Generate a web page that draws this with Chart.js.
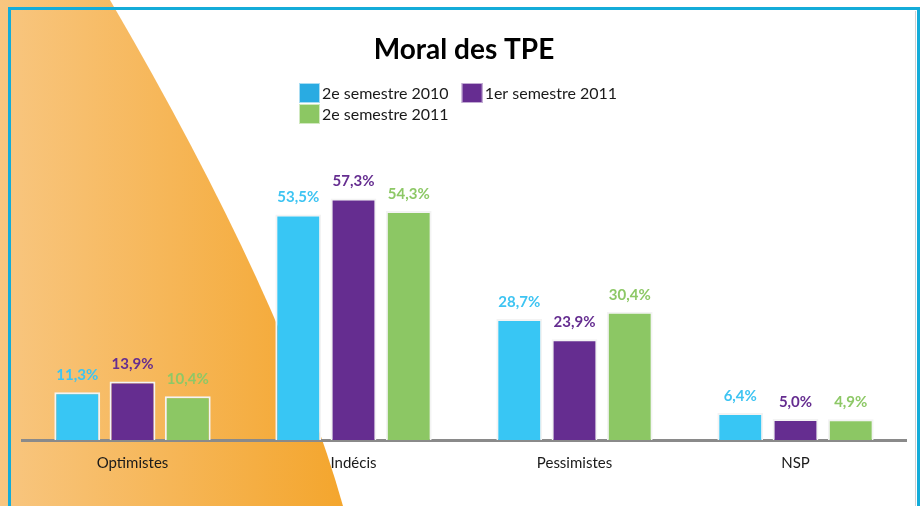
<!DOCTYPE html>
<html>
<head>
<meta charset="utf-8">
<script src="https://cdn.jsdelivr.net/npm/chart.js@4.4.1/dist/chart.umd.min.js"></script>
<style>
  html, body { margin: 0; padding: 0; background: #ffffff; }
  #wrap { width: 920px; height: 506px; position: relative; }
</style>
</head>
<body>
<div id="wrap"><canvas id="c" width="920" height="506"></canvas></div>
<script>
const categories = ['Optimistes', 'Indécis', 'Pessimistes', 'NSP'];
const seriesNames = ['2e semestre 2010', '1er semestre 2011', '2e semestre 2011'];
const values2010S2 = [11.3, 53.5, 28.7, 6.4];
const values2011S1 = [13.9, 57.3, 23.9, 5.0];
const values2011S2 = [10.4, 54.3, 30.4, 4.9];
const chartTitle = 'Moral des TPE';

const FONT = 'Lato, "Open Sans", "Liberation Sans", sans-serif';
const barColors = ['#38c6f4', '#652d90', '#8cc764'];
const labelColors = ['#3ec4f2', '#652d90', '#8dc866'];
const legendColors = ['#29abe2', '#662d91', '#8cc763'];

const fmt = v => v.toFixed(1).replace('.', ',') + '%';

const backgroundPlugin = {
  id: 'bgDecor',
  beforeDraw(chart) {
    const ctx = chart.ctx;
    const W = chart.width, H = chart.height;
    ctx.save();
    ctx.fillStyle = '#ffffff';
    ctx.fillRect(0, 0, W, H);
    const g = ctx.createLinearGradient(0, 0, 340, 0);
    g.addColorStop(0, '#f8c680');
    g.addColorStop(1, '#f4a62e');
    ctx.fillStyle = g;
    ctx.beginPath();
    ctx.moveTo(0, 0);
    ctx.lineTo(110, 0);
    ctx.quadraticCurveTo(285, 300, 343, H);
    ctx.lineTo(0, H);
    ctx.closePath();
    ctx.fill();
    // frame
    ctx.strokeStyle = '#d0d0d0';
    ctx.lineWidth = 1;
    ctx.beginPath();
    ctx.moveTo(915.5, 11);
    ctx.lineTo(915.5, H);
    ctx.stroke();
    ctx.strokeStyle = '#14acd9';
    ctx.lineWidth = 3;
    ctx.beginPath();
    ctx.moveTo(9.5, H + 5);
    ctx.lineTo(9.5, 8.5);
    ctx.lineTo(918.5, 8.5);
    ctx.lineTo(918.5, H + 5);
    ctx.stroke();
    ctx.restore();
  }
};

const legendPlugin = {
  id: 'customLegend',
  afterDraw(chart) {
    const ctx = chart.ctx;
    ctx.save();
    ctx.font = '16px ' + FONT;
    ctx.textBaseline = 'middle';
    ctx.textAlign = 'left';
    const x0 = 299, y0 = 83, bw = 21, bh = 20, rowH = 21;
    const layout = [[0, 1], [2]];
    layout.forEach((row, r) => {
      let x = x0;
      const y = y0 + r * rowH;
      row.forEach(i => {
        ctx.fillStyle = legendColors[i];
        ctx.fillRect(x, y, bw, bh);
        ctx.strokeStyle = 'rgba(255,255,255,0.6)';
        ctx.lineWidth = 1;
        ctx.strokeRect(x + 0.5, y + 0.5, bw - 1, bh - 1);
        ctx.fillStyle = '#1a1a1a';
        ctx.fillText(seriesNames[i], x + bw + 2, y + bh / 2 + 1);
        x += bw + 2 + ctx.measureText(seriesNames[i]).width + 13;
      });
    });
    ctx.restore();
  }
};

const valueLabelPlugin = {
  id: 'valueLabels',
  afterDatasetsDraw(chart) {
    const ctx = chart.ctx;
    ctx.save();
    ctx.font = 'bold 15px ' + FONT;
    ctx.textAlign = 'center';
    ctx.textBaseline = 'alphabetic';
    chart.data.datasets.forEach((ds, di) => {
      const meta = chart.getDatasetMeta(di);
      meta.data.forEach((el, i) => {
        ctx.fillStyle = labelColors[di];
        ctx.fillText(fmt(ds.data[i]), el.x, el.y - 12);
      });
    });
    ctx.restore();
  }
};

const series = [values2010S2, values2011S1, values2011S2];

new Chart(document.getElementById('c'), {
  type: 'bar',
  data: {
    labels: categories,
    datasets: series.map((vals, i) => ({
      label: seriesNames[i],
      data: vals,
      backgroundColor: barColors[i],
      borderColor: '#f3f3f3',
      borderWidth: 2,
      borderSkipped: 'bottom',
      categoryPercentage: 0.75,
      barPercentage: 0.83
    }))
  },
  options: {
    responsive: false,
    animation: false,
    devicePixelRatio: 1,
    layout: { padding: { left: 22, right: 14, top: 0, bottom: 20 } },
    plugins: {
      legend: { display: false },
      tooltip: { enabled: false },
      title: {
        display: true,
        text: chartTitle,
        color: '#000000',
        font: { family: FONT, size: 28, weight: 'bold' },
        padding: { top: 33, bottom: 120.4 }
      }
    },
    scales: {
      x: {
        grid: { display: false, drawTicks: false },
        border: { display: true, color: '#8a8a8a', width: 3 },
        ticks: { color: '#1a1a1a', font: { family: FONT, size: 15 }, padding: 14 }
      },
      y: {
        display: false,
        min: 0,
        max: 60
      }
    }
  },
  plugins: [backgroundPlugin, legendPlugin, valueLabelPlugin]
});
</script>
</body>
</html>
